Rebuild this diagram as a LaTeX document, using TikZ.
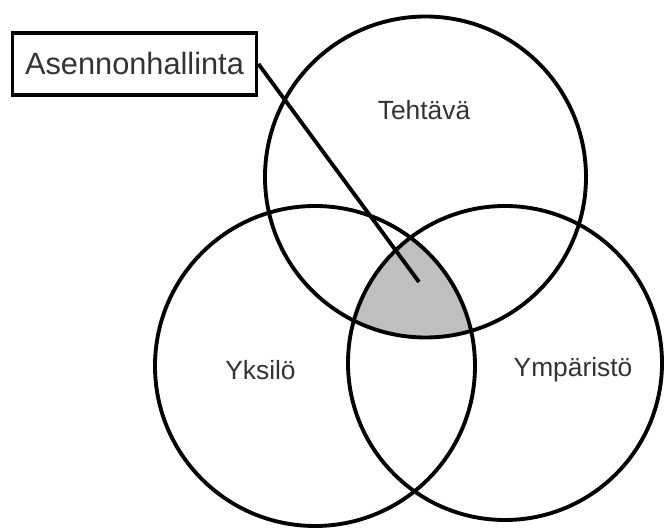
\documentclass[tikz,border=0pt]{standalone}
\usepackage{fontspec}
\setmainfont{Liberation Sans}
\usetikzlibrary{positioning}

\begin{document}
\begin{tikzpicture}[
  ring/.style={draw, line width=2.2pt},
  lbl/.style={font=\fontsize{15}{18}\selectfont, text=black!80},
  callout/.style={draw, line width=2.2pt, fill=white, minimum width=4.88cm,
                  minimum height=1.24cm, inner sep=0pt,
                  font=\fontsize{17.5}{20}\selectfont, text=black!80},
  ptr/.style={line width=2.2pt}
]
  \useasboundingbox (0, 0) rectangle (13.3, 10.62);

  \coordinate (ctask) at (8.51, 7.08);
  \coordinate (cself) at (6.30, 3.30);
  \coordinate (cenv)  at (10.10, 3.36);

  % common part of the three sets
  \begin{scope}
    \clip (ctask) circle (3.21);
    \clip (cself) circle (3.20);
    \fill[black!25] (cenv) circle (3.14);
  \end{scope}

  \draw[ring] (ctask) circle (3.21);
  \draw[ring] (cself) circle (3.20);
  \draw[ring] (cenv)  circle (3.14);

  \node[lbl] (task) at (8.48, 8.42)  {Tehtävä};
  \node[lbl] (self) at (5.21, 3.22)  {Yksilö};
  \node[lbl] (env)  at (11.46, 3.22) {Ympäristö};

  \node[callout] (att) at (2.69, 9.34) {Asennonhallinta};
  \coordinate (core) at (8.38, 4.98);
  \draw[ptr] (att.east) -- (core);
\end{tikzpicture}
\end{document}
